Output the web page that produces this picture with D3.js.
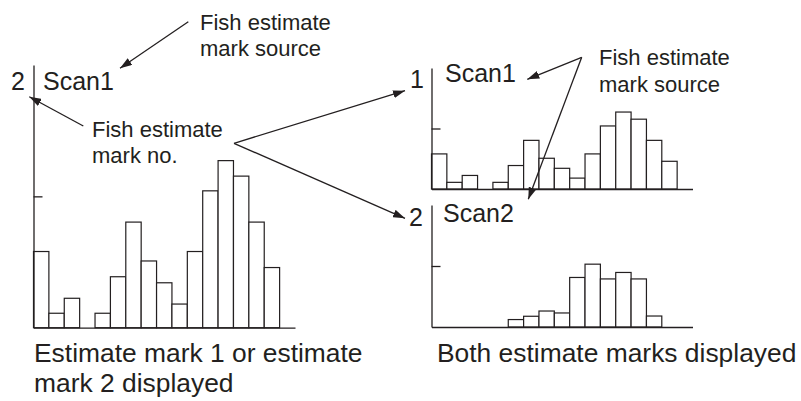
<!DOCTYPE html>
<html><head><meta charset="utf-8">
<script src="https://cdn.jsdelivr.net/npm/d3@7"></script>
<style>
html,body{margin:0;padding:0;background:#fff;}
svg{display:block;}
text{font-family:"Liberation Sans",Arial,Helvetica,sans-serif;fill:#231f20;}
</style></head>
<body>
<svg id="chart" width="801" height="401"></svg>
<script>
// ---- data ----
const bins = ["1","2","3","4","5","6","7","8","9","10","11","12","13","14","15","16"];
const scan1Values = [29, 5.5, 11.2, 0, 5.5, 19.4, 40.2, 25.4, 17.1, 9, 29, 52.1, 63.6, 57.7, 40.2, 22.9];
const scan2Values = [0, 0, 0, 0, 0, 6.1, 8.8, 13.1, 11.5, 40.6, 51.5, 39.4, 44.7, 39.4, 9, 0];
const yTicks = [50];
const markNumbers = ["2", "1", "2"];
const scanLabels = ["Scan1", "Scan1", "Scan2"];

const ink = "#231f20";
const svg = d3.select("#chart");

const defs = svg.append("defs");
defs.append("marker").attr("id","ah").attr("viewBox","0 0 12 8")
  .attr("refX",12).attr("refY",4).attr("markerWidth",12).attr("markerHeight",8)
  .attr("markerUnits","userSpaceOnUse").attr("orient","auto")
  .append("path").attr("d","M0,0 L12,4 L0,8 Z").attr("fill",ink);

function panel(cfg, values, num, label){
  const g = svg.append("g");
  const x = d3.scaleBand().domain(bins.concat(["_"])).range([cfg.x0, cfg.x1]).paddingInner(0).paddingOuter(0);
  const y = d3.scaleLinear().domain([0,100]).range([cfg.yb, cfg.yt]);
  g.selectAll("rect.bar").data(bins.map((b,i)=>({b, v:values[i]})).filter(d=>d.v>0))
    .join("rect").attr("class","bar")
    .attr("x", d=>x(d.b)).attr("width", x.bandwidth())
    .attr("y", d=>y(d.v)).attr("height", d=>y(0)-y(d.v))
    .attr("fill","#fff").attr("stroke",ink).attr("stroke-width",1.2);
  const ya = d3.axisLeft(y).tickValues(yTicks).tickSize(-cfg.tick).tickSizeOuter(0).tickFormat("");
  const yg = g.append("g").attr("transform",`translate(${cfg.x0},0)`).call(ya);
  yg.selectAll("path,line").attr("stroke",ink).attr("stroke-width",1.3);
  const xa = d3.axisBottom(x).tickValues([]).tickSizeOuter(0);
  const xg = g.append("g").attr("transform",`translate(0,${cfg.yb})`).call(xa);
  xg.selectAll("path").attr("stroke",ink).attr("stroke-width",1.3);
  g.append("text").attr("x",cfg.numX).attr("y",cfg.numY).attr("font-size",cfg.fs).text(num);
  g.append("text").attr("x",cfg.labX).attr("y",cfg.labY).attr("font-size",cfg.fs).text(label);
}

panel({x0:33.5,x1:295,yb:327.7,yt:65,tick:9,numX:11,numY:90,labX:43,labY:90,fs:25}, scan1Values, markNumbers[0], scanLabels[0]);
panel({x0:431.5,x1:692.5,yb:189,yt:68,tick:9,numX:410,numY:88,labX:445,labY:82,fs:25}, scan1Values, markNumbers[1], scanLabels[1]);
panel({x0:431.5,x1:692.5,yb:327,yt:205,tick:9,numX:409,numY:226,labX:443,labY:222,fs:25}, scan2Values, markNumbers[2], scanLabels[2]);

// annotations
function multi(x, y, lines, fs, lh){
  const t = svg.append("text").attr("x",x).attr("y",y).attr("font-size",fs);
  lines.forEach((l,i)=>t.append("tspan").attr("x",x).attr("dy", i? lh:0).text(l));
}
multi(200, 30, ["Fish estimate","mark source"], 22, 26);
multi(92, 137, ["Fish estimate","mark no."], 22, 26);
multi(599, 65, ["Fish estimate","mark source"], 22, 27);
multi(34, 362, ["Estimate mark 1 or estimate","mark 2 displayed"], 26.4, 30);
multi(437, 362, ["Both estimate marks displayed"], 26.4, 30);

const arrows = [
  [188.3,21.7,120,68.3],
  [83.3,126,29.3,96.7],
  [234,143.3,405,90.7],
  [234,143.3,405,218.3],
  [581.7,57.3,527.3,79.3],
  [581.7,57.3,528.3,199.3]
];
svg.append("g").selectAll("line").data(arrows).join("line")
  .attr("x1",d=>d[0]).attr("y1",d=>d[1]).attr("x2",d=>d[2]).attr("y2",d=>d[3])
  .attr("stroke",ink).attr("stroke-width",1.3).attr("marker-end","url(#ah)");
</script>
</body></html>
